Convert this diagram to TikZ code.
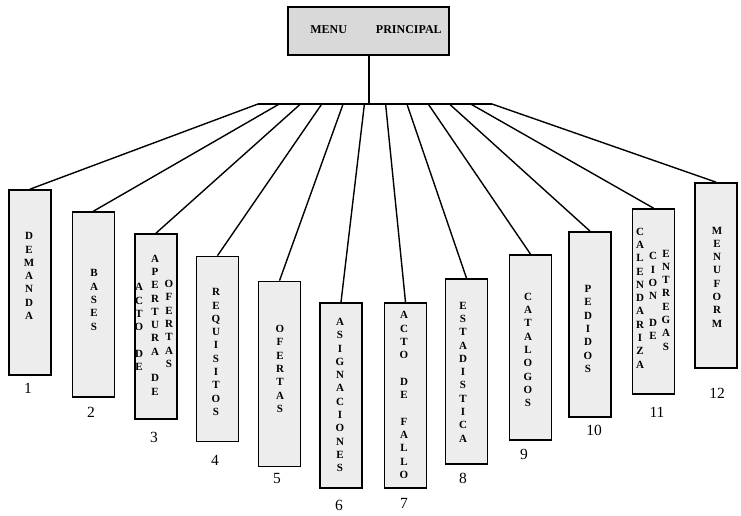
\documentclass[tikz,border=0pt]{standalone}
\usepackage{fontspec}
\setmainfont{Liberation Serif}
\begin{document}
\begin{tikzpicture}[x=1pt,y=-1pt,
  boxst/.style={draw=black, line width=1.7pt, fill=black!7, minimum width=42pt, minimum height=185pt, inner sep=0pt},
  topst/.style={draw=black, line width=1.7pt, fill=black!15, minimum width=161pt, minimum height=48pt, inner sep=0pt},
  col/.style={font=\bfseries\fontsize{11}{13.3}\selectfont, align=center, inner sep=0pt},
  num/.style={font=\fontsize{15.5}{17}\selectfont, inner sep=0pt},
  conn/.style={line width=1.4pt}]
\useasboundingbox (0,0) rectangle (741,515);
% top box
\node[topst] (m) at (368.5,31) {};
\node[font=\bfseries\fontsize{12}{14}\selectfont, inner sep=0pt] (mt) at (376,30) {MENU\hspace{29pt}PRINCIPAL};
% boxes
\node[boxst] (b1) at (30,282.5) {};
\node[boxst] (b2) at (93.5,304.5) {};
\node[boxst] (b3) at (156,326.5) {};
\node[boxst] (b4) at (217.5,349) {};
\node[boxst] (b5) at (279.5,374) {};
\node[boxst] (b6) at (341,395.5) {};
\node[boxst] (b7) at (405.5,395.5) {};
\node[boxst] (b8) at (466.5,371.5) {};
\node[boxst] (b9) at (530.5,347.5) {};
\node[boxst] (b10) at (590,324.5) {};
\node[boxst] (b11) at (653.5,301.5) {};
\node[boxst] (b12) at (716,275.5) {};
% bar points
\coordinate (pc) at (369,104);
\foreach \i/\x in {1/258,2/279.3,3/300.5,4/321.8,5/343.1,6/364.4,7/385.6,8/406.9,9/428.2,10/449.4,11/470.7,12/492}
  \coordinate (p\i) at (\x,104);
\draw[conn] (m.south -| pc) -- (pc);
\draw[conn] (p1) -- (p12);
\foreach \i in {1,...,12}
  \draw[conn] (p\i) -- (b\i.north);
% texts
\node[col] (t1) at (29,276) {D\\E\\M\\A\\N\\D\\A};
\node[col] (t2) at (94,300) {B\\A\\S\\E\\S};
\node[col] (t3a) at (139,327) {A\\C\\T\\O\\\mbox{}\\D\\E};
\node[col] (t3b) at (155,325) {A\\P\\E\\R\\T\\U\\R\\A\\\mbox{}\\D\\E};
\node[col] (t3c) at (169,324) {O\\F\\E\\R\\T\\A\\S};
\node[col] (t4) at (216,352) {R\\E\\Q\\U\\I\\S\\I\\T\\O\\S};
\node[col] (t5) at (280,369) {O\\F\\E\\R\\T\\A\\S};
\node[col] (t6) at (340,395) {A\\S\\I\\G\\N\\A\\C\\I\\O\\N\\E\\S};
\node[col] (t7) at (404,395) {A\\C\\T\\O\\\mbox{}\\D\\E\\\mbox{}\\F\\A\\L\\L\\O};
\node[col] (t8) at (463,372) {E\\S\\T\\A\\D\\I\\S\\T\\I\\C\\A};
\node[col] (t9) at (528,350) {C\\A\\T\\A\\L\\O\\G\\O\\S};
\node[col] (t10) at (588,329) {P\\E\\D\\I\\D\\O\\S};
\node[col] (t11a) at (640,298) {C\\A\\L\\E\\N\\D\\A\\R\\I\\Z\\A};
\node[col] (t11b) at (653,296) {C\\I\\O\\N\\\mbox{}\\D\\E};
\node[col] (t11c) at (666,300) {E\\N\\T\\R\\E\\G\\A\\S};
\node[col] (t12) at (717,277) {M\\E\\N\\U\\F\\O\\R\\M};
% numbers
\node[num] (n1) at (28,388) {1};
\node[num] (n2) at (91,412) {2};
\node[num] (n3) at (154,437) {3};
\node[num] (n4) at (215,460) {4};
\node[num] (n5) at (277,478) {5};
\node[num] (n6) at (339,505) {6};
\node[num] (n7) at (404,503) {7};
\node[num] (n8) at (463,478) {8};
\node[num] (n9) at (524,454) {9};
\node[num] (n10) at (594,430) {10};
\node[num] (n11) at (657,412) {11};
\node[num] (n12) at (717,393) {12};
\end{tikzpicture}
\end{document}
